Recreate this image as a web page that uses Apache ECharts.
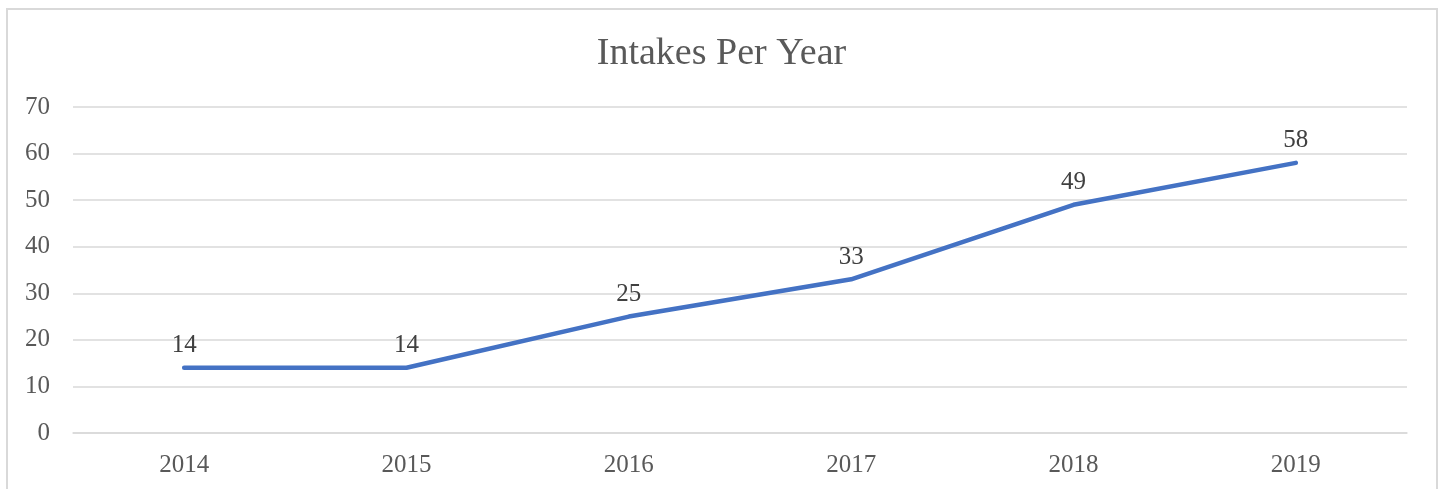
<!DOCTYPE html>
<html>
<head>
<meta charset="utf-8">
<script src="https://cdn.jsdelivr.net/npm/echarts@6/dist/echarts.min.js"></script>
<style>
html,body{margin:0;padding:0;background:#fff;}
#c{width:1443px;height:489px;}
</style>
</head>
<body>
<div id="c"></div>
<script>
var categories = ['2014', '2015', '2016', '2017', '2018', '2019'];
var intakes = [14, 14, 25, 33, 49, 58];
var titleText = 'Intakes Per Year';

var FONT = '"Liberation Serif", serif';
var chart = echarts.init(document.getElementById('c'));
chart.setOption({
  animation: false,
  backgroundColor: '#ffffff',
  graphic: [{
    type: 'rect',
    shape: {x: 7, y: 9, width: 1430, height: 520},
    style: {fill: 'none', stroke: '#d9d9d9', lineWidth: 2},
    silent: true
  }],
  title: {
    text: titleText,
    left: 'center',
    top: 30,
    textStyle: {fontFamily: FONT, fontSize: 38, fontWeight: 'normal', color: '#595959'}
  },
  grid: {left: 73, right: 36, top: 107, bottom: 56, containLabel: false},
  xAxis: {
    type: 'category',
    data: categories,
    boundaryGap: true,
    axisLine: {show: true, lineStyle: {color: '#d9d9d9', width: 1.5}},
    axisTick: {show: false},
    axisLabel: {fontFamily: FONT, fontSize: 25, color: '#595959', margin: 20}
  },
  yAxis: {
    type: 'value',
    min: 0, max: 70, interval: 10,
    axisLine: {show: false},
    axisTick: {show: false},
    splitLine: {lineStyle: {color: '#d9d9d9', width: 1.5}},
    axisLabel: {fontFamily: FONT, fontSize: 25, color: '#595959', margin: 23}
  },
  series: [{
    type: 'line',
    data: intakes,
    symbol: 'circle',
    symbolSize: 1,
    showSymbol: true,
    itemStyle: {color: '#4472C4'},
    lineStyle: {color: '#4472C4', width: 4.5, cap: 'round', join: 'round'},
    label: {show: true, position: 'top', distance: 9, fontFamily: FONT, fontSize: 25, color: '#404040'}
  }]
});
</script>
</body>
</html>
